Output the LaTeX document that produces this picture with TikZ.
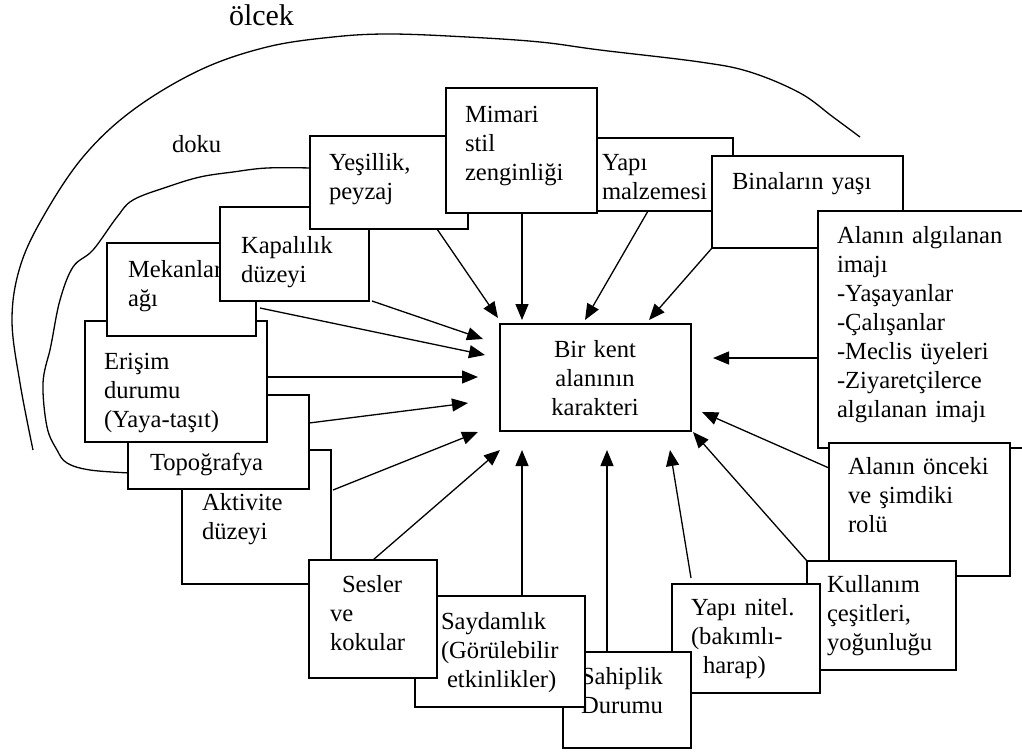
\documentclass[tikz,border=0pt]{standalone}
\usepackage{fontspec}
\setmainfont{Liberation Serif}
\usetikzlibrary{arrows.meta,calc}
\newcommand\lbf{\fontsize{24.6}{29}\selectfont}
\begin{document}
\begin{tikzpicture}[x=1pt,y=-1pt,
  box/.style={draw,fill=white,line width=1.8pt,inner sep=0pt,outer sep=0pt,anchor=north west},
  lbl/.style={anchor=base west,inner sep=0pt,outer sep=0pt,font=\lbf,text width=260pt,align=left},
  arr/.style={-{Triangle[length=16pt,width=13pt]},line width=1.3pt},
  crv/.style={line width=1.3pt}]
\clip (0,0) rectangle (1022,753);
\fill[white] (0,0) rectangle (1022,753);
% outer curve
\draw[crv] plot[smooth,tension=0.6] coordinates {(33,450) (20,383) (12,320) (20,267) (43,217) (83,157) (133,110) (200,70) (267,47) (333,37) (390,34) (467,37) (540,42) (600,50) (700,62) (750,72) (800,93) (833,117) (860,137)};
% inner wavy curve
\draw[crv] plot[smooth,tension=0.6] coordinates {(312,168) (267,168) (233,172) (200,177) (167,187) (133,200) (117,217) (93,250) (73,267) (60,300) (52,340) (50,350) (43,383) (47,427) (57,450) (67,463) (90,470) (130,473)};
\node[lbl,font=\fontsize{30}{34}\selectfont] (olcek) at (229,25) {ölcek};
\node[lbl] (doku) at (172,152) {doku};
% boxes, back to front
\node[box,minimum width=136pt,minimum height=73pt] (yap) at (597,138) {};
\node[lbl] (tyap) at (602,170) {Yapı\\malzemesi};
\node[box,minimum width=191pt,minimum height=92pt] (bin) at (712,156) {};
\node[lbl] (tbin) at (732,189) {Binaların yaşı};
\node[box,minimum width=230pt,minimum height=237pt] (alg) at (818,211) {};
\node[lbl] (talg) at (837,243) {Alanın algılanan\\imajı\\-Yaşayanlar\\-Çalışanlar\\-Meclis üyeleri\\-Ziyaretçilerce\\algılanan imajı};
\node[box,minimum width=181pt,minimum height=133pt] (onc) at (829,443) {};
\node[lbl] (tonc) at (848,474) {Alanın önceki\\ve şimdiki\\rolü};
\node[box,minimum width=149pt,minimum height=109pt] (kul) at (807,561) {};
\node[lbl] (tkul) at (827,592) {Kullanım\\çeşitleri,\\yoğunluğu};
\node[box,minimum width=148pt,minimum height=109pt] (nit) at (672,584) {};
\node[lbl] (tnit) at (691,615) {Yapı nitel.\\(bakımlı-\\\hspace*{12pt}harap)};
\node[box,minimum width=128pt,minimum height=96pt] (sah) at (563,652) {};
\node[lbl] (tsah) at (581,684) {Sahiplik\\Durumu};
\node[box,minimum width=170pt,minimum height=111pt] (say) at (415,596) {};
\node[lbl] (tsay) at (441,629) {Saydamlık\\(Görülebilir\\\hspace*{6pt}etkinlikler)};
\node[box,minimum width=149pt,minimum height=134pt] (akt) at (182,450) {};
\node[lbl] (takt) at (202,510) {Aktivite\\düzeyi};
\node[box,minimum width=128pt,minimum height=118pt] (ses) at (309,560) {};
\node[lbl] (tses) at (330,592) {\hspace*{12pt}Sesler\\ve\\kokular};
\node[box,minimum width=181pt,minimum height=94pt] (top) at (128,395) {};
\node[lbl] (ttop) at (150,470) {Topoğrafya};
\node[box,minimum width=182pt,minimum height=121pt] (eri) at (85,321) {};
\node[lbl] (teri) at (104,369) {Erişim\\durumu\\(Yaya-taşıt)};
\node[box,minimum width=149pt,minimum height=93pt] (mek) at (107,243) {};
\node[lbl] (tmek) at (128,277) {Mekanlar\\ağı};
\node[box,minimum width=149pt,minimum height=94pt] (kap) at (220,207) {};
\node[lbl] (tkap) at (241,253) {Kapalılık\\düzeyi};
\node[box,minimum width=158pt,minimum height=93pt] (yes) at (310,136) {};
\node[lbl] (tyes) at (329,170) {Yeşillik,\\peyzaj};
\node[box,minimum width=151pt,minimum height=125pt] (mim) at (446,88) {};
\node[lbl] (tmim) at (465,122) {Mimari\\stil\\zenginliği};
% centre
\node[box,minimum width=191pt,minimum height=107pt] (cen) at (500,324) {};
\node[anchor=base,inner sep=0pt,font=\lbf,text width=191pt,align=center] (tcen) at (595,357) {Bir kent\\alanının\\karakteri};
% arrow ends
\coordinate (e1) at (498,318);
\coordinate (e2) at (522,320);
\coordinate (e3) at (585,320);
\coordinate (e4) at (649,320);
\coordinate (e5) at (483,339);
\coordinate (e6) at (485,355);
\coordinate (e7) at (478,377);
\coordinate (e8) at (468,403);
\coordinate (e9) at (478,432);
\coordinate (e10) at (500,450);
\coordinate (e11) at (522,450);
\coordinate (e12) at (607,450);
\coordinate (e13) at (670,450);
\coordinate (e14) at (693,432);
\coordinate (e15) at (702,412);
\coordinate (e16) at (713,358);
% arrows
\draw[arr] ($(yes.south west)+(127,0)$) -- (e1);
\draw[arr] ($(mim.south west)+(76,0)$) -- (e2);
\draw[arr] ($(yap.south west)+(51,0)$) -- (e3);
\draw[arr] (bin.south west) -- (e4);
\draw[arr] ($(kap.south east)+(3,0)$) -- (e5);
\draw[arr] ($(mek.north east)+(4,65)$) -- (e6);
\draw[arr] ($(eri.north east)+(0,56)$) -- (e7);
\draw[arr] ($(top.north east)+(0,28)$) -- (e8);
\draw[arr] ($(akt.north east)+(2,40)$) -- (e9);
\draw[arr] ($(ses.north west)+(64,0)$) -- (e10);
\draw[arr] ($(say.north west)+(107,0)$) -- (e11);
\draw[arr] ($(sah.north west)+(44,0)$) -- (e12);
\draw[arr] ($(nit.north west)+(19,-6)$) -- (e13);
\draw[arr] (kul.north west) -- (e14);
\draw[arr] ($(onc.north west)+(0,25)$) -- (e15);
\draw[arr] ($(alg.north west)+(0,147)$) -- (e16);
\end{tikzpicture}
\end{document}
